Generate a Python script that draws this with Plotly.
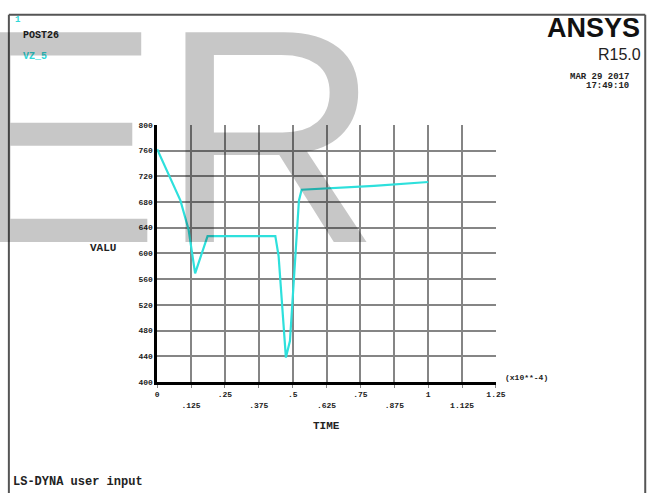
import plotly.graph_objects as go

# ---- data ----
time_vals = [0.0, 0.086, 0.116, 0.140, 0.186, 0.436, 0.448, 0.460, 0.475, 0.490, 0.508, 0.523, 0.533, 0.80, 1.0]
valu_vals = [762, 682, 637, 569, 627, 627, 596, 525, 438, 464, 575, 682, 699, 705, 711]

x_tickvals = [0, 0.125, 0.25, 0.375, 0.5, 0.625, 0.75, 0.875, 1.0, 1.125, 1.25]
x_ticklabels = ["0", ".125", ".25", ".375", ".5", ".625", ".75", ".875", "1", "1.125", "1.25"]
y_tickvals = [400, 440, 480, 520, 560, 600, 640, 680, 720, 760, 800]
y_ticklabels = [str(v) for v in y_tickvals]

W, H = 668, 498
MONO = "Liberation Mono"

def px(x):
    return x / W

def py(y):
    return 1 - y / H

x_ticktext = [t if i % 2 == 0 else " <br>" + t for i, t in enumerate(x_ticklabels)]

fig = go.Figure()
fig.add_trace(go.Scatter(
    x=time_vals, y=valu_vals, mode="lines",
    line=dict(color="#2ee0dc", width=2.2),
    showlegend=False, hoverinfo="skip",
))

grid_col = "#858585"
fig.update_layout(
    width=W, height=H,
    margin=dict(l=0, r=0, t=0, b=0),
    paper_bgcolor="white", plot_bgcolor="white",
    xaxis=dict(
        domain=[px(158), px(503)], range=[0, 1.25],
        tickvals=x_tickvals, ticktext=x_ticktext,
        showgrid=True, gridcolor=grid_col, gridwidth=1.7,
        showline=True, linecolor="black", linewidth=2.5,
        ticks="outside", ticklen=3, tickcolor=grid_col,
        zeroline=False, fixedrange=True,
        tickfont=dict(family=MONO, size=8, color="#222", weight="bold"),
    ),
    yaxis=dict(
        domain=[py(385), py(123)], range=[400, 800],
        tickvals=y_tickvals, ticktext=y_ticklabels,
        showgrid=True, gridcolor=grid_col, gridwidth=1.7,
        showline=True, linecolor="black", linewidth=2.5,
        ticks="", zeroline=False, fixedrange=True,
        tickfont=dict(family=MONO, size=8, color="#222", weight="bold"),
    ),
)

# frame
frame_col = "#555555"
fig.add_shape(type="line", xref="paper", yref="paper", x0=px(7), x1=px(655), y0=py(11), y1=py(11),
              line=dict(color=frame_col, width=2))
fig.add_shape(type="line", xref="paper", yref="paper", x0=px(7), x1=px(7), y0=py(11), y1=py(498),
              line=dict(color=frame_col, width=2))
fig.add_shape(type="line", xref="paper", yref="paper", x0=px(655), x1=px(655), y0=py(11), y1=py(498),
              line=dict(color=frame_col, width=2))

def txt(s, x, y, size, color="#222", family=MONO, weight="bold", xanchor="left"):
    fig.add_annotation(text=s, x=px(x), y=py(y), xref="paper", yref="paper",
                       xanchor=xanchor, yanchor="middle", showarrow=False,
                       font=dict(family=family, size=size, color=color, weight=weight))

txt("1", 11, 16, 9, color="#30d8d8")
txt("POST26", 19, 32, 10)
txt("VZ_5", 19, 53, 10, color="#30d8d8")
txt("ANSYS", 652, 24, 27, color="#111", family="Liberation Sans", xanchor="right")
txt("R15.0", 653, 51, 16, color="#222", family="Liberation Sans", weight="normal", xanchor="right")
txt("MAR 29 2017", 640, 74, 9, xanchor="right")
txt("17:49:10", 640, 84, 9, xanchor="right")
txt("VALU", 118, 248, 11, xanchor="right")
txt("TIME", 330, 430, 11, xanchor="center")
txt("(x10**-4)", 510, 380, 8)
txt("LS-DYNA user input", 9, 487, 12)

# watermark
fig.add_annotation(text="ER", x=px(-48), y=py(135), xref="paper", yref="paper",
                   xanchor="left", yanchor="middle", showarrow=False,
                   font=dict(family="Liberation Sans", size=305, color="rgba(0,0,0,0.22)"))

fig.write_html("out.html", config={"displayModeBar": False},
               post_script="document.body.style.margin='0';document.body.style.overflow='hidden';")
